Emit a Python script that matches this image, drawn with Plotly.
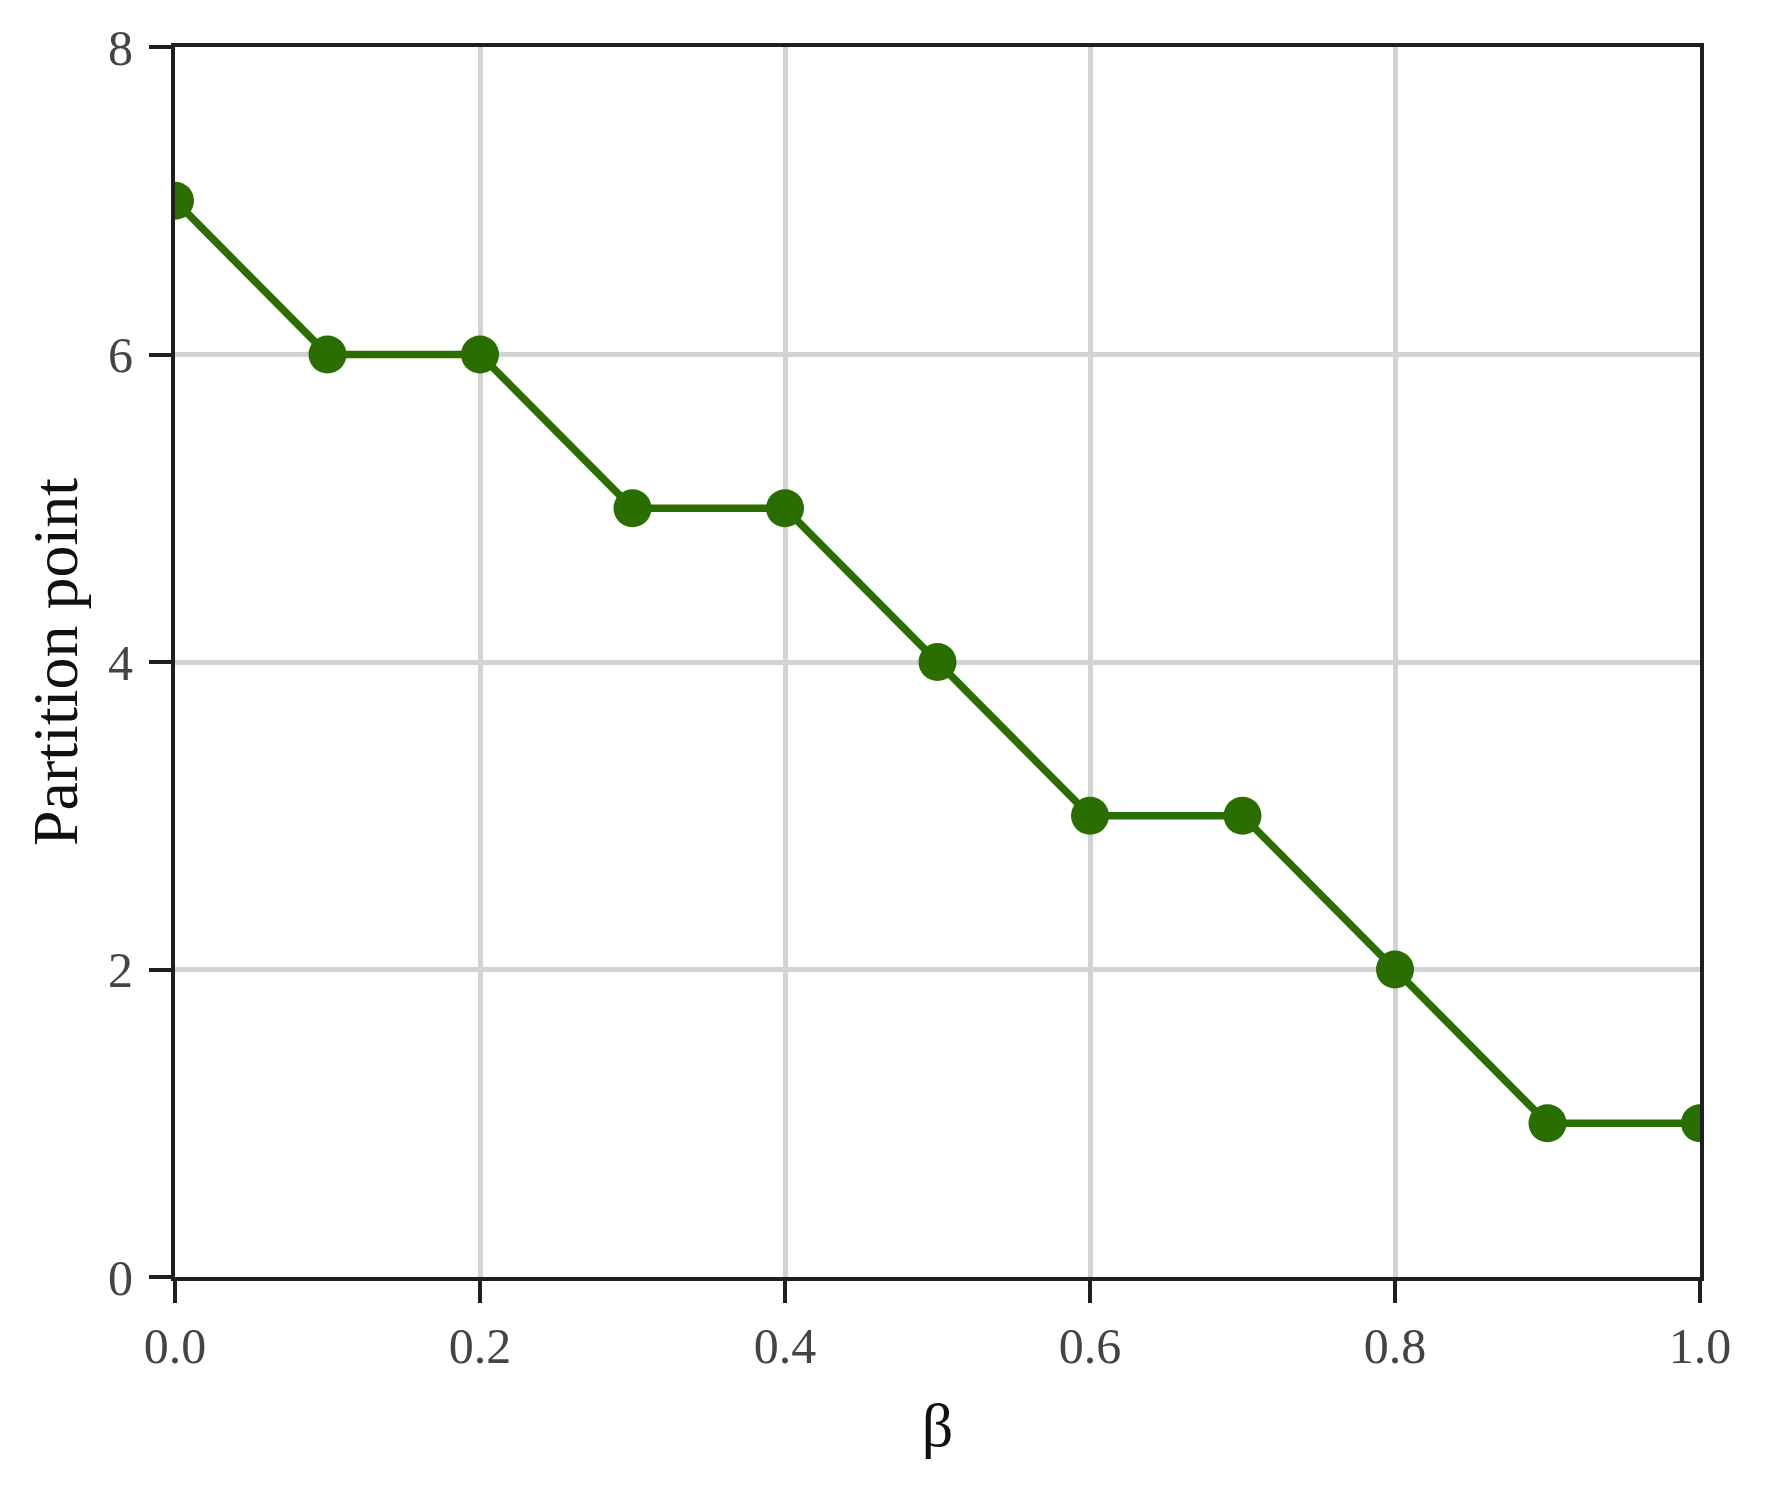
import plotly.graph_objects as go

beta = [0.0, 0.1, 0.2, 0.3, 0.4, 0.5, 0.6, 0.7, 0.8, 0.9, 1.0]
partition_point = [7, 6, 6, 5, 5, 4, 3, 3, 2, 1, 1]

x_tick_vals = [0.0, 0.2, 0.4, 0.6, 0.8, 1.0]
x_tick_text = ["0.0", "0.2", "0.4", "0.6", "0.8", "1.0"]
y_tick_vals = [0, 2, 4, 6, 8]
y_tick_text = ["0", "2", "4", "6", "8"]

green = "#2a6e00"

fig = go.Figure()
fig.add_trace(go.Scatter(
    x=beta, y=partition_point, mode="lines+markers",
    line=dict(color=green, width=7.5),
    marker=dict(color=green, size=38),
    cliponaxis=True, showlegend=False,
))

axis_common = dict(
    showline=True, linecolor="#1f1f1f", linewidth=4, mirror=True,
    ticks="outside", ticklen=22, tickwidth=4, tickcolor="#1f1f1f",
    showgrid=True, gridcolor="#d3d3d3", gridwidth=5,
    zeroline=False,
    tickfont=dict(family="Liberation Serif", size=50, color="#444444"),
)

fig.update_xaxes(
    range=[0, 1], tickvals=x_tick_vals, ticktext=x_tick_text,
    title=dict(text="β", font=dict(family="Liberation Serif", size=62, color="#111111"), standoff=31),
    **axis_common,
)
fig.update_yaxes(
    range=[0, 8], tickvals=y_tick_vals, ticktext=y_tick_text,
    ticklabelstandoff=6,
    title=dict(text="Partition point", font=dict(family="Liberation Serif", size=64, color="#111111"), standoff=11),
    **axis_common,
)

fig.update_layout(
    width=1772, height=1493, autosize=False,
    margin=dict(l=167, r=80, t=39, b=224),
    paper_bgcolor="white", plot_bgcolor="white",
)

fig.write_html("out.html")
